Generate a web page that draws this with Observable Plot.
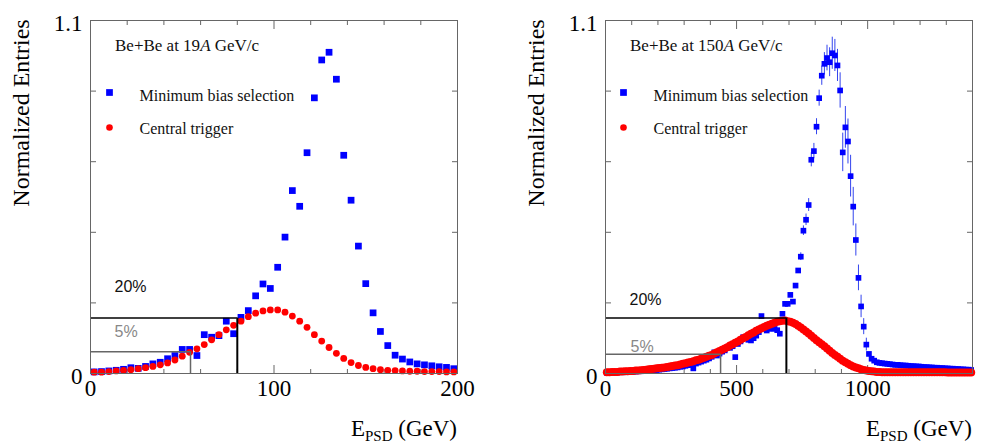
<!DOCTYPE html>
<html>
<head>
<meta charset="utf-8">
<script src="https://cdn.jsdelivr.net/npm/d3@7"></script>
<script src="https://cdn.jsdelivr.net/npm/@observablehq/plot@0.6"></script>
<style>
  html, body { margin: 0; padding: 0; background: #fff; }
  #wrap { display: flex; width: 988px; height: 444px; overflow: hidden; }
  #wrap svg { display: block; flex: none; }
</style>
</head>
<body>
<div id="wrap"></div>
<script>
// ---------------- DATA ----------------
// Left panel: Be+Be at 19A GeV/c, bin centres (GeV)
const leftE = [2,6,10,14,18,22,26,30,34,38,42,46,50,54,58,62,66,70,74,78,82,86,90,94,98,102,106,110,114,118,122,126,130,134,138,142,146,150,154,158,162,166,170,174,178,182,186,190,194,198];
const leftMinBias = [0.005,0.006,0.008,0.010,0.013,0.018,0.016,0.022,0.030,0.035,
  0.046,0.056,0.075,0.075,0.056,0.121,0.113,0.118,0.163,0.124,
  0.175,0.196,0.242,0.279,0.265,0.331,0.425,0.570,0.521,0.688,
  0.859,0.977,1.001,0.917,0.680,0.540,0.397,0.280,0.189,0.131,
  0.087,0.057,0.045,0.036,0.030,0.027,0.024,0.021,0.019,0.015];
const leftCentral = [0.004,0.004,0.006,0.008,0.010,0.012,0.015,0.018,0.022,0.027,
  0.033,0.042,0.054,0.066,0.077,0.090,0.105,0.121,0.136,0.150,
  0.163,0.177,0.188,0.195,0.198,0.198,0.191,0.179,0.163,0.144,
  0.121,0.101,0.081,0.063,0.047,0.034,0.025,0.019,0.015,0.012,
  0.010,0.009,0.008,0.007,0.007,0.006,0.006,0.006,0.005,0.005];

// Right panel: Be+Be at 150A GeV/c, bin centres (GeV)
const rightE = [5,15,25,35,45,55,65,75,85,95,
  105,115,125,135,145,155,165,175,185,195,
  205,215,225,235,245,255,265,275,285,295,
  305,315,325,335,345,355,365,375,385,395,
  405,415,425,435,445,455,465,475,485,495,
  505,515,525,535,545,555,565,575,585,595,
  605,615,625,635,645,655,665,675,685,695,
  705,715,725,735,745,755,765,775,785,795,
  805,815,825,835,845,855,865,875,885,895,
  905,915,925,935,945,955,965,975,985,995,
  1005,1015,1025,1035,1045,1055,1065,1075,1085,1095,
  1105,1115,1125,1135,1145,1155,1165,1175,1185,1195,
  1205,1215,1225,1235,1245,1255,1265,1275,1285,1295,
  1305,1315,1325,1335,1345,1355,1365,1375,1385,1395];
const rightMinBias = [0.002,0.002,0.003,0.003,0.003,0.004,0.004,0.004,0.005,0.005,
  0.006,0.006,0.007,0.007,0.008,0.008,0.009,0.010,0.010,0.011,
  0.012,0.013,0.014,0.015,0.016,0.017,0.018,0.019,0.021,0.022,
  0.024,0.026,0.028,0.016,0.031,0.034,0.037,0.040,0.043,0.047,
  0.052,0.066,0.056,0.062,0.068,0.072,0.082,0.080,0.085,0.051,
  0.092,0.100,0.113,0.113,0.105,0.103,0.110,0.118,0.129,0.179,
  0.140,0.134,0.139,0.142,0.139,0.135,0.124,0.186,0.217,0.217,
  0.245,0.224,0.274,0.321,0.364,0.445,0.479,0.525,0.666,0.693,
  0.769,0.858,0.928,0.965,0.983,0.970,0.998,0.991,0.960,0.882,
  0.689,0.767,0.723,0.615,0.520,0.416,0.298,0.209,0.146,0.090,
  0.061,0.046,0.040,0.035,0.033,0.032,0.031,0.030,0.029,0.028,
  0.027,0.027,0.026,0.025,0.025,0.024,0.023,0.023,0.022,0.022,
  0.021,0.020,0.020,0.019,0.019,0.018,0.018,0.017,0.017,0.016,
  0.016,0.015,0.015,0.014,0.014,0.013,0.013,0.012,0.012,0.011];
const rightCentral = [0.004,0.004,0.005,0.005,0.005,0.006,0.006,0.007,0.007,0.008,
  0.008,0.009,0.009,0.010,0.011,0.012,0.013,0.014,0.015,0.016,
  0.017,0.018,0.019,0.020,0.022,0.023,0.025,0.026,0.028,0.030,
  0.032,0.034,0.036,0.038,0.041,0.043,0.046,0.049,0.052,0.055,
  0.058,0.062,0.066,0.070,0.074,0.078,0.082,0.087,0.091,0.096,
  0.100,0.105,0.110,0.114,0.119,0.124,0.128,0.133,0.137,0.141,
  0.145,0.149,0.152,0.155,0.158,0.161,0.163,0.164,0.165,0.163,
  0.161,0.158,0.154,0.149,0.143,0.137,0.131,0.125,0.118,0.111,
  0.104,0.097,0.091,0.085,0.078,0.071,0.064,0.058,0.052,0.046,
  0.040,0.035,0.030,0.026,0.022,0.019,0.016,0.013,0.011,0.009,
  0.008,0.007,0.006,0.005,0.005,0.004,0.004,0.004,0.004,0.004,
  0.004,0.004,0.004,0.004,0.004,0.004,0.004,0.004,0.004,0.004,
  0.004,0.004,0.004,0.004,0.004,0.004,0.004,0.004,0.004,0.004,
  0.003,0.003,0.003,0.003,0.003,0.003,0.003,0.003,0.003,0.003];
// statistical errors on the minimum-bias points around the 150A peak
const rightErrE = [745,755,765,775,785,795,805,815,825,835,845,855,865,875,885,895,905,915,925,935,945,955,965,975,985,995];
const rightErr = [0.012,0.015,0.018,0.020,0.022,0.024,0.025,0.025,0.030,0.035,0.040,0.045,0.050,0.050,0.050,0.055,0.060,0.065,0.070,0.065,0.060,0.050,0.040,0.035,0.025,0.020];

// Centrality cuts: [20%, 5%]
const cutLabels = ["20%", "5%"];
const leftCutE = [80, 54.5];
const leftCutY = [0.173, 0.068];
const rightCutE = [690, 439];
const rightCutY = [0.173, 0.060];

// Ticks
const leftMajorX = [0, 100, 200];
const leftMinorX = [20, 40, 60, 80, 120, 140, 160, 180];
const rightMajorX = [0, 500, 1000];
const rightMinorX = [100, 200, 300, 400, 600, 700, 800, 900, 1100, 1200, 1300];
const yTicks = [0.22, 0.44, 0.66, 0.88];
const yLabelTicks = [0, 1.1];

const seriesNames = ["Minimum bias selection", "Central trigger"];
const yTitle = "Normalized Entries";

// ---------------- DRAW ----------------
const serif = "'Liberation Serif', 'Times New Roman', serif";
const sans = "'Liberation Sans', Arial, sans-serif";

function panel(o) {
  const W = 494, H = 444, mt = 20, mb = 71;
  const blue = o.E.map((e, i) => ({e, v: o.minBias[i]}));
  const red = o.E.map((e, i) => ({e, v: o.central[i]}));
  const blueByE = new Map(blue.map(d => [d.e, d.v]));
  const err = (o.errE || []).map((e, i) => ({e, lo: blueByE.get(e) - o.err[i], hi: blueByE.get(e) + o.err[i]}));
  const cut20 = [{e: o.cutE[0], v: o.cutY[0]}];
  const cut5 = [{e: o.cutE[1], v: o.cutY[1]}];
  const tk = {fill: "none", stroke: "#666", strokeWidth: 1};
  const lab = {frameAnchor: "top-left", textAnchor: "start", lineAnchor: "middle", text: d => d};
  const svg = Plot.plot({
    width: W, height: H,
    marginLeft: o.ml, marginRight: o.mr, marginTop: mt, marginBottom: mb,
    x: {domain: o.xDomain, axis: null},
    y: {domain: [0, 1.1], axis: null},
    style: {background: "#fff", fontFamily: serif, color: "#000", overflow: "visible"},
    marks: [
      Plot.axisX(o.minorX, {anchor: "bottom", tickSize: -4, ...tk}),
      Plot.axisX(o.majorX, {anchor: "bottom", tickSize: -8, ...tk}),
      Plot.axisX(o.minorX, {anchor: "top", tickSize: -4, ...tk}),
      Plot.axisX(o.majorX, {anchor: "top", tickSize: -8, ...tk}),
      Plot.axisY(yTicks, {anchor: "left", tickSize: -6, ...tk}),
      Plot.axisY(yTicks, {anchor: "right", tickSize: -6, ...tk}),
      Plot.axisX(o.majorX, {anchor: "bottom", tickSize: 0, tickPadding: 6, fontSize: 23, fontFamily: serif, label: null, stroke: "none", tickFormat: d => String(d)}),
      Plot.axisY(yLabelTicks, {anchor: "left", tickSize: 0, tickPadding: 8, fontSize: 23, fontFamily: serif, label: null, dy: 3, stroke: "none", tickFormat: d => d === 0 ? "0" : "1.1"}),
      Plot.ruleX(err, {x: "e", y1: "lo", y2: "hi", stroke: "#3344ee", strokeWidth: 1}),
      Plot.dot(blue, {x: "e", y: "v", symbol: "square", r: o.rb, fill: "#0000ff"}),
      Plot.dot(red, {x: "e", y: "v", r: o.rr, fill: "#ff0000"}),
      Plot.ruleY(cut5, {y: "v", x1: o.xDomain[0], x2: "e", stroke: "#666", strokeWidth: 1.5}),
      Plot.ruleX(cut5, {x: "e", y1: 0, y2: "v", stroke: "#666", strokeWidth: 1.5}),
      Plot.ruleY(cut20, {y: "v", x1: o.xDomain[0], x2: "e", stroke: "#000", strokeWidth: 1.6}),
      Plot.ruleX(cut20, {x: "e", y1: 0, y2: "v", stroke: "#000", strokeWidth: 2}),
      Plot.frame({stroke: "#666", strokeWidth: 1}),
      Plot.text([cutLabels[0]], {...lab, dx: o.l20[0], dy: o.l20[1], fontFamily: sans, fontSize: 16, fill: "#111"}),
      Plot.text([cutLabels[1]], {...lab, dx: o.l5[0], dy: o.l5[1], fontFamily: sans, fontSize: 16, fill: "#888"}),
      Plot.dot([0], {frameAnchor: "top-left", dx: o.legX, dy: 72, symbol: "square", r: 3.8, fill: "#0000ff"}),
      Plot.dot([0], {frameAnchor: "top-left", dx: o.legX, dy: 107, r: 3.3, fill: "#ff0000"}),
      Plot.text([seriesNames[0]], {...lab, dx: o.legX + 30, dy: 75, fontFamily: serif, fontSize: 16, fill: "#111"}),
      Plot.text([seriesNames[1]], {...lab, dx: o.legX + 30, dy: 108, fontFamily: serif, fontSize: 16, fill: "#111"})
    ]
  });
  const s = d3.select(svg);
  // title with italic A
  const t = s.append("text")
    .attr("x", o.ml + 25).attr("y", mt + 27)
    .attr("text-anchor", "start")
    .attr("dominant-baseline", "middle")
    .attr("font-family", serif).attr("font-size", 17).attr("fill", "#111");
  t.append("tspan").text(o.titleA);
  t.append("tspan").attr("font-style", "italic").text("A");
  t.append("tspan").text(" GeV/c");
  // y title
  s.append("text")
    .attr("transform", `translate(${o.ml - 67},113) rotate(-90)`)
    .attr("text-anchor", "middle").attr("dominant-baseline", "middle")
    .attr("font-family", serif).attr("font-size", 24).attr("fill", "#000")
    .text(yTitle);
  // x title E_PSD (GeV)
  const xt = s.append("text")
    .attr("x", W - o.mr).attr("y", 436)
    .attr("text-anchor", "end")
    .attr("font-family", serif).attr("font-size", 23).attr("fill", "#000");
  xt.append("tspan").text("E");
  xt.append("tspan").attr("font-size", 15).attr("dy", 5).text("PSD");
  xt.append("tspan").attr("dy", -5).text(" (GeV)");
  return svg;
}

const wrap = document.getElementById("wrap");
wrap.append(panel({
  E: leftE, minBias: leftMinBias, central: leftCentral,
  cutE: leftCutE, cutY: leftCutY,
  xDomain: [0, 200], majorX: leftMajorX, minorX: leftMinorX,
  ml: 90, mr: 37, rb: 3.8, rr: 3.4,
  l20: [24, 266], l5: [24, 311], legX: 19,
  titleA: "Be+Be at 19"
}));
wrap.append(panel({
  E: rightE, minBias: rightMinBias, central: rightCentral,
  errE: rightErrE, err: rightErr,
  cutE: rightCutE, cutY: rightCutY,
  xDomain: [0, 1400], majorX: rightMajorX, minorX: rightMinorX,
  ml: 111, mr: 16, rb: 3.2, rr: 4,
  l20: [24, 279], l5: [25, 326], legX: 18,
  titleA: "Be+Be at 150"
}));
</script>
</body>
</html>
